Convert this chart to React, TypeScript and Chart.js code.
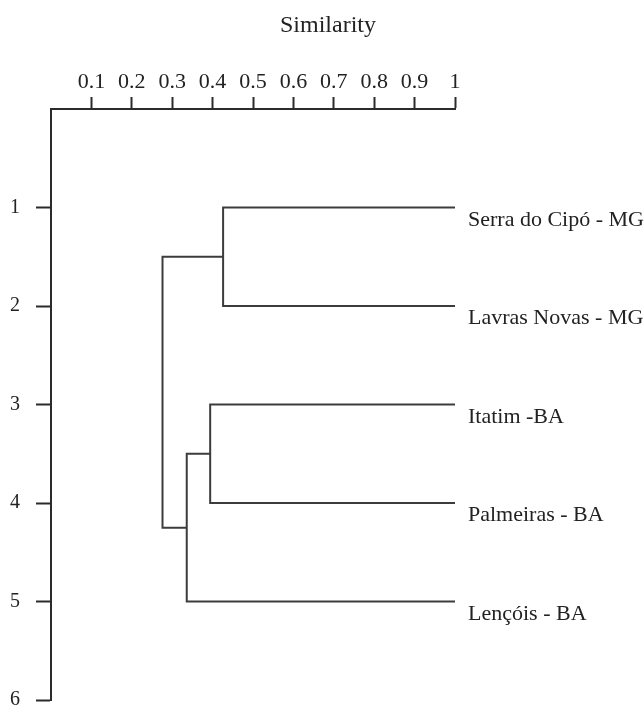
import React, { useEffect, useRef } from "react";
import { Chart, registerables } from "chart.js";

Chart.register(...registerables);

// ---- data ----
const titleText = "Similarity";
const leafNames = [
  "Serra do Cipó - MG",
  "Lavras Novas - MG",
  "Itatim -BA",
  "Palmeiras - BA",
  "Lençóis - BA",
];
const leafRows = [1, 2, 3, 4, 5];
const leafSimilarity = 1;
// merges: node ids 0..4 are leaves, 5.. are merge results in order
const mergeLeft = [0, 2, 6, 5];
const mergeRight = [1, 3, 4, 7];
const mergeSimilarity = [0.426, 0.394, 0.336, 0.276];

const xTickValues = [0.1, 0.2, 0.3, 0.4, 0.5, 0.6, 0.7, 0.8, 0.9, 1];
const xTickLabels = ["0.1", "0.2", "0.3", "0.4", "0.5", "0.6", "0.7", "0.8", "0.9", "1"];
const yTickValues = [1, 2, 3, 4, 5, 6];
const yTickLabels = ["1", "2", "3", "4", "5", "6"];

const INK = "#2b2b2b";
const LINE = "#3c3c3c";
const SERIF = '"Liberation Serif", "Times New Roman", serif';

function buildDatasets() {
  const nodeX: number[] = leafRows.map(() => leafSimilarity);
  const nodeY: number[] = [...leafRows];
  const sets: any[] = [];
  mergeLeft.forEach((l, i) => {
    const r = mergeRight[i];
    const m = mergeSimilarity[i];
    sets.push({
      data: [
        { x: nodeX[l], y: nodeY[l] },
        { x: m, y: nodeY[l] },
        { x: m, y: nodeY[r] },
        { x: nodeX[r], y: nodeY[r] },
      ],
      showLine: true,
      borderColor: LINE,
      borderWidth: 2,
      pointRadius: 0,
      tension: 0,
      clip: false,
    });
    nodeX.push(m);
    nodeY.push((nodeY[l] + nodeY[r]) / 2);
  });
  return sets;
}

const textPlugin = {
  id: "leafLabels",
  afterDraw(chart: any) {
    const { ctx } = chart;
    const x = chart.scales.x;
    const y = chart.scales.y;
    ctx.save();
    ctx.fillStyle = "#222";
    ctx.textBaseline = "alphabetic";
    ctx.textAlign = "left";
    ctx.font = `22px ${SERIF}`;
    leafNames.forEach((name, i) => {
      ctx.fillText(name, x.getPixelForValue(leafSimilarity) + 13, y.getPixelForValue(leafRows[i]) + 18);
    });
    ctx.font = `24px ${SERIF}`;
    ctx.textAlign = "center";
    ctx.fillText(titleText, 328, 32);
    ctx.restore();
  },
};

export default function App() {
  const ref = useRef<HTMLCanvasElement>(null);
  useEffect(() => {
    if (!ref.current) return;
    const chart = new Chart(ref.current, {
      type: "scatter",
      data: { datasets: buildDatasets() },
      options: {
        animation: false,
        responsive: false,
        layout: { padding: { left: 0, right: 189, top: 0, bottom: 7 } },
        plugins: { legend: { display: false }, tooltip: { enabled: false }, title: { display: false } },
        scales: {
          x: {
            type: "linear",
            position: "top",
            min: 0,
            max: 1,
            afterBuildTicks: (s: any) => {
              s.ticks = xTickValues.map((value) => ({ value }));
            },
            afterFit: (s: any) => {
              s.height = 109;
            },
            ticks: {
              callback: (_v: any, i: number) => xTickLabels[i],
              font: { family: SERIF, size: 22 },
              color: "#222",
              padding: 2,
              maxRotation: 0,
              autoSkip: false,
            },
            grid: { drawOnChartArea: false, drawTicks: true, tickLength: 12, tickWidth: 2, tickColor: INK },
            border: { display: true, color: INK, width: 2 },
          },
          y: {
            type: "linear",
            position: "left",
            reverse: true,
            min: 0,
            max: 6,
            afterBuildTicks: (s: any) => {
              s.ticks = yTickValues.map((value) => ({ value }));
            },
            afterFit: (s: any) => {
              s.width = 51;
              s.paddingTop = 0;
              s.paddingBottom = 0;
            },
            ticks: {
              callback: (_v: any, i: number) => yTickLabels[i],
              font: { family: SERIF, size: 20 },
              color: "#222",
              padding: 16,
              autoSkip: false,
            },
            grid: { drawOnChartArea: false, drawTicks: true, tickLength: 15, tickWidth: 2, tickColor: INK },
            border: { display: true, color: INK, width: 2 },
          },
        },
      },
      plugins: [textPlugin],
    });
    return () => chart.destroy();
  }, []);
  return (
    <div style={{ position: "absolute", left: 0, top: 0, width: 644, height: 707, background: "#fff" }}>
      <canvas ref={ref} width={644} height={707} style={{ display: "block" }} />
    </div>
  );
}
